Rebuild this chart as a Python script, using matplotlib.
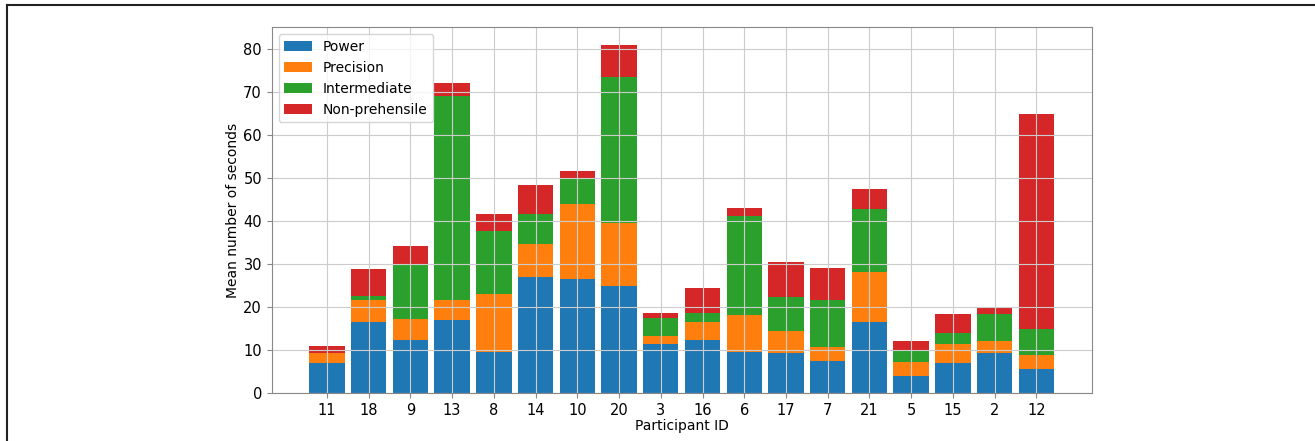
import matplotlib
matplotlib.use('agg')
import numpy as np
import matplotlib.pyplot as plt
from matplotlib.lines import Line2D

# participant order as plotted
participants = ['11', '18', '9', '13', '8', '14', '10', '20', '3', '16',
                '6', '17', '7', '21', '5', '15', '2', '12']

# mean seconds per grasp type
power = [7.1, 16.5, 12.4, 17.0, 9.6, 27.1, 26.6, 25.0, 11.4, 12.4,
         9.6, 9.3, 7.5, 16.6, 4.1, 7.1, 9.3, 5.7]
precision = [2.2, 5.1, 4.9, 4.6, 13.5, 7.6, 17.4, 14.5, 1.9, 4.3,
             8.6, 5.3, 3.3, 11.7, 3.1, 4.4, 2.9, 3.2]
intermediate = [0.2, 1.0, 12.8, 47.6, 14.7, 7.0, 6.0, 34.1, 4.2, 2.0,
                23.0, 7.9, 10.8, 14.5, 2.6, 2.5, 6.3, 6.1]
non_prehensile = [1.6, 6.2, 4.2, 3.0, 3.8, 6.7, 1.8, 7.4, 1.3, 5.7,
                  1.8, 8.1, 7.6, 4.8, 2.3, 4.4, 1.6, 50.0]

ind = np.arange(len(participants))
width = 0.85

fig = plt.figure(figsize=(13.15, 4.41), dpi=100)
ax = fig.add_axes([0.2066, 0.108, 0.6235, 0.830])

b1 = np.array(power)
b2 = b1 + np.array(precision)
b3 = b2 + np.array(intermediate)

ax.bar(ind, power, width, color='#1f77b4', label='Power')
ax.bar(ind, precision, width, bottom=b1, color='#ff7f0e', label='Precision')
ax.bar(ind, intermediate, width, bottom=b2, color='#2ca02c', label='Intermediate')
ax.bar(ind, non_prehensile, width, bottom=b3, color='#d62728', label='Non-prehensile')

ax.set_xticks(ind)
ax.set_xticklabels(participants)
ax.set_xlim(-1.32, 18.32)
ax.set_ylim(0, 85.1)
ax.set_xlabel('Participant ID', size=10, labelpad=1)
ax.set_ylabel('Mean number of seconds', size=10, labelpad=2)
ax.tick_params(labelsize=10.5, color='#888888')
for s in ax.spines.values():
    s.set_color('#888888')
ax.legend(loc='upper left', fontsize=10)
ax.grid(color='#cccccc')

# thin frame along the top and left edge
fig.add_artist(Line2D([0.005, 1.0], [0.989, 0.989], color='#222222', lw=1.5,
                      transform=fig.transFigure))
fig.add_artist(Line2D([0.005, 0.005], [0.0, 0.989], color='#222222', lw=1.5,
                      transform=fig.transFigure))

plt.savefig('out.png', dpi=100)
